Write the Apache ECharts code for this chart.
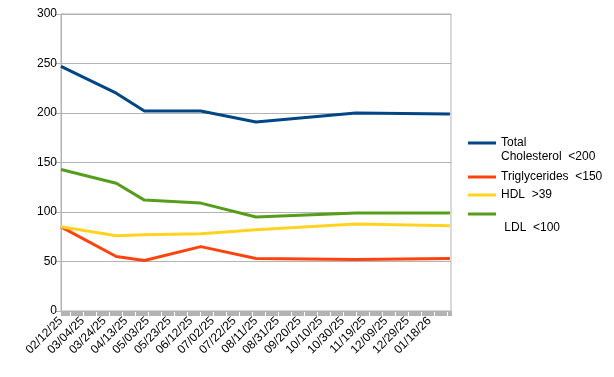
<!DOCTYPE html>
<html>
<head>
<meta charset="utf-8">
<script src="https://cdn.jsdelivr.net/npm/echarts@6/dist/echarts.min.js"></script>
<style>
  html, body { margin: 0; padding: 0; background: #fff; }
  #chart { width: 614px; height: 377px; }
</style>
</head>
<body>
<div id="chart"></div>
<script>
// lab results
const startDate = '2025-02-12';
const sampleDates = ['2025-02-12', '2025-04-04', '2025-04-30', '2025-06-21', '2025-08-11', '2025-11-11', '2026-02-06'];
const totalChol = [247, 220, 202, 202, 191, 200, 199];
const triglycerides = [85, 55, 51, 65, 53, 52, 53];
const hdl = [85, 76, 77, 78, 82, 88, 86];
const ldl = [143, 129, 112, 109, 95, 99, 99];

// date axis: one label every 20 days
const xTickLabels = ['02/12/25', '03/04/25', '03/24/25', '04/13/25', '05/03/25', '05/23/25', '06/12/25',
  '07/02/25', '07/22/25', '08/11/25', '08/31/25', '09/20/25', '10/10/25', '10/30/25', '11/19/25',
  '12/09/25', '12/29/25', '01/18/26'];

const DAY = 86400000;
const dayOf = (d) => Math.round((Date.parse(d) - Date.parse(startDate)) / DAY);
const pts = (vals) => vals.map((v, i) => [dayOf(sampleDates[i]), v]);

const font = 'Liberation Sans';
const gray = '#b3b3b3';

const mkSeries = (name, vals, color) => ({
  name: name,
  type: 'line',
  data: pts(vals),
  symbol: 'none',
  lineStyle: { color: color, width: 3 },
  itemStyle: { color: color },
  animation: false,
});

// legend text is centred on the icon, so blank lines push the wanted line onto the icon row
const mkLegend = (name, top, text) => ({
  data: [name],
  orient: 'vertical',
  left: 468,
  top: top,
  padding: 0,
  icon: 'rect',
  itemWidth: 28,
  itemHeight: 3,
  formatter: () => text,
  textStyle: { fontFamily: font, fontSize: 12, color: '#000', lineHeight: 14 },
});

const chart = echarts.init(document.getElementById('chart'));

chart.setOption({
  animation: false,
  backgroundColor: '#fff',
  grid: {
    left: 61, right: 163, top: 14, bottom: 66,
    show: true, borderColor: gray, borderWidth: 1,
  },
  legend: [
    mkLegend('Total', 122, ' \nTotal\nCholesterol  <200'),
    mkLegend('Triglycerides', 170, 'Triglycerides  <150'),
    mkLegend('HDL', 188, 'HDL  >39'),
    mkLegend('LDL', 193, ' \n \n LDL  <100'),
  ],
  xAxis: {
    type: 'value',
    min: 0,
    max: 360,
    interval: 20,
    axisLine: { show: true, lineStyle: { color: gray } },
    axisTick: { show: true, length: 5, lineStyle: { color: gray } },
    minorTick: { show: true, splitNumber: 20, length: 5, lineStyle: { color: gray } },
    splitLine: { show: false },
    axisLabel: {
      rotate: 45,
      margin: 8,
      showMaxLabel: false,
      fontFamily: font,
      fontSize: 12,
      color: '#000',
      formatter: (v) => xTickLabels[Math.round(v / 20)] || '',
    },
  },
  yAxis: {
    type: 'value',
    min: 0,
    max: 300,
    interval: 50,
    axisLine: { show: true, lineStyle: { color: gray } },
    axisTick: { show: true, length: 5, lineStyle: { color: gray } },
    splitLine: { show: true, lineStyle: { color: gray } },
    axisLabel: { margin: 4, fontFamily: font, fontSize: 12, color: '#000' },
  },
  series: [
    mkSeries('Total', totalChol, '#004586'),
    mkSeries('Triglycerides', triglycerides, '#ff420e'),
    mkSeries('HDL', hdl, '#ffd320'),
    mkSeries('LDL', ldl, '#579d1c'),
  ],
});
</script>
</body>
</html>
